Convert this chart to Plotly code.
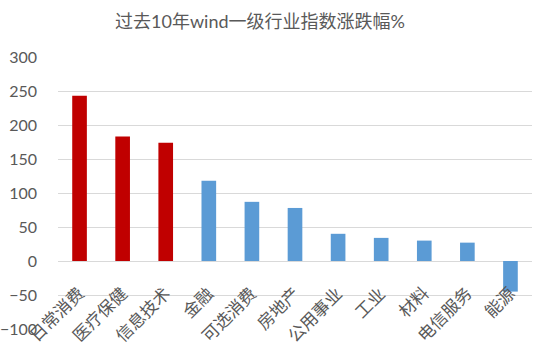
import plotly.graph_objects as go

categories = ["日常消费", "医疗保健", "信息技术", "金融", "可选消费", "房地产",
              "公用事业", "工业", "材料", "电信服务", "能源"]
values = [243, 183, 174, 118, 87, 78, 40, 34, 30, 27, -45]
colors = ["#C00000"] * 3 + ["#5B9BD5"] * 8
title = "过去10年wind一级行业指数涨跌幅%"
y_ticks = [-100, -50, 0, 50, 100, 150, 200, 250, 300]

font_family = "Lato, 'Noto Sans CJK SC', sans-serif"

fig = go.Figure()
fig.add_trace(go.Bar(x=categories, y=values, marker=dict(color=colors, line=dict(width=0)),
                     width=0.34))

for c in categories:
    fig.add_annotation(x=c, y=0, xref="x", yref="y", text=c, showarrow=False,
                       textangle=-45, xanchor="right", yanchor="top",
                       xshift=12, yshift=-17,
                       font=dict(family="'Noto Sans CJK SC'", size=17, color="#595959"))

fig.update_layout(
    width=549, height=351,
    margin=dict(l=58, r=17, t=57, b=22, autoexpand=False),
    paper_bgcolor="white", plot_bgcolor="white",
    showlegend=False,
    title=dict(text=title, x=260 / 549, xref="container", xanchor="center",
               y=1 - 22 / 351, yanchor="middle",
               font=dict(family=font_family, size=18, color="#595959")),
    xaxis=dict(showticklabels=False, showgrid=False, zeroline=False, showline=False,
               range=[-0.5, len(categories) - 0.5], automargin=False),
    yaxis=dict(range=[-100, 300], tickvals=y_ticks, showgrid=True, gridcolor="#D9D9D9",
               gridwidth=1.3, zeroline=True, zerolinecolor="#D9D9D9", zerolinewidth=1.3,
               showline=False, ticks="", ticklabelstandoff=20, automargin=False,
               tickfont=dict(family="Lato, sans-serif", size=16, color="#595959")),
    bargap=0.66,
)

fig.write_html("out.html")
